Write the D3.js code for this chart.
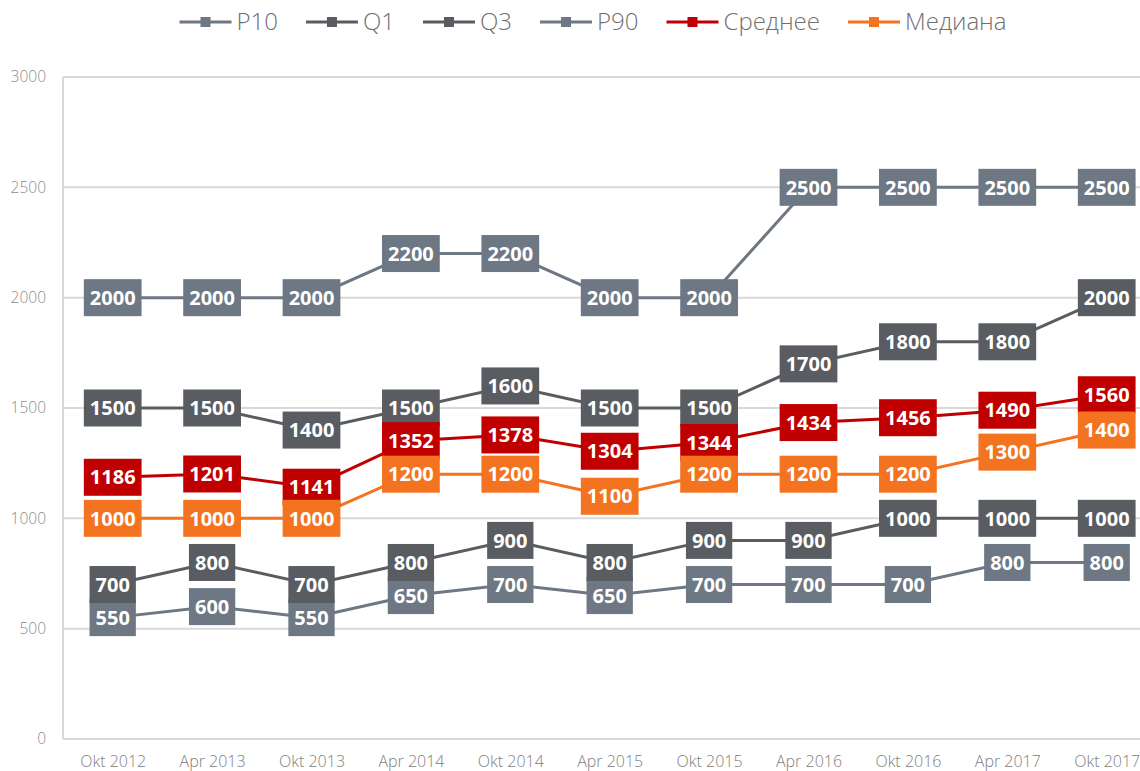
<!DOCTYPE html>
<html>
<head>
<meta charset="utf-8">
<script src="https://cdn.jsdelivr.net/npm/d3@7"></script>
<style>
  body { margin: 0; background: #fff; }
  svg { font-family: "Open Sans", sans-serif; display: block; }
</style>
</head>
<body>
<div id="app"></div>
<script>
const width = 1140,
  height = 771;

const periods = ["Okt 2012", "Apr 2013", "Okt 2013", "Apr 2014", "Okt 2014", "Apr 2015",
  "Okt 2015", "Apr 2016", "Okt 2016", "Apr 2017", "Okt 2017"];
const seriesNames = ["P10", "Q1", "Q3", "P90", "Среднее", "Медиана"];
const p10 = [550, 600, 550, 650, 700, 650, 700, 700, 700, 800, 800];
const q1 = [700, 800, 700, 800, 900, 800, 900, 900, 1000, 1000, 1000];
const q3 = [1500, 1500, 1400, 1500, 1600, 1500, 1500, 1700, 1800, 1800, 2000];
const p90 = [2000, 2000, 2000, 2200, 2200, 2000, 2000, 2500, 2500, 2500, 2500];
const mean = [1186, 1201, 1141, 1352, 1378, 1304, 1344, 1434, 1456, 1490, 1560];
const median = [1000, 1000, 1000, 1200, 1200, 1100, 1200, 1200, 1200, 1300, 1400];
const yTicks = [0, 500, 1000, 1500, 2000, 2500, 3000];

const colors = ["#6d7884", "#595c61", "#595c61", "#6d7884", "#c00000", "#f37321"];
const series = seriesNames.map((name, i) => ({
  name,
  color: colors[i],
  values: [p10, q1, q3, p90, mean, median][i]
}));

const margin = { left: 63, top: 77, bottom: 32 };

const x = d3.scalePoint()
  .domain(periods)
  .range([margin.left, margin.left + 99.4 * 11])
  .padding(0.5);

const y = d3.scaleLinear()
  .domain([0, 3000])
  .range([height - margin.bottom, margin.top]);

const svg = d3.select("#app").append("svg")
  .attr("width", width)
  .attr("height", height);

// grid lines
svg.append("g")
  .selectAll("line")
  .data(yTicks.slice(1))
  .join("line")
  .attr("x1", margin.left)
  .attr("x2", width)
  .attr("y1", d => y(d))
  .attr("y2", d => y(d))
  .attr("stroke", "#d9d9d9")
  .attr("stroke-width", 2);

// y axis labels
const yAxis = svg.append("g")
  .attr("transform", `translate(${margin.left - 17},0)`)
  .call(d3.axisLeft(y).tickValues(yTicks).tickFormat(d3.format("d")).tickSize(0).tickPadding(0));
yAxis.select(".domain").remove();
yAxis.selectAll("text")
  .attr("font-family", "Open Sans")
  .attr("font-size", 15.5)
  .attr("font-weight", 300)
  .attr("fill", "#8c8c8c");

// x axis labels
const xAxis = svg.append("g")
  .attr("transform", `translate(0,${y(0)})`)
  .call(d3.axisBottom(x).tickSize(0).tickPadding(17));
xAxis.select(".domain").remove();
xAxis.selectAll("text")
  .attr("font-family", "Open Sans")
  .attr("font-size", 16)
  .attr("font-weight", 300)
  .attr("fill", "#808080");

// axis lines
svg.append("line")
  .attr("x1", margin.left).attr("x2", margin.left)
  .attr("y1", y(3000)).attr("y2", y(0))
  .attr("stroke", "#d9d9d9").attr("stroke-width", 2);
svg.append("line")
  .attr("x1", margin.left).attr("x2", width)
  .attr("y1", y(0)).attr("y2", y(0))
  .attr("stroke", "#d9d9d9").attr("stroke-width", 2);

const line = d3.line()
  .x((d, i) => x(periods[i]))
  .y(d => y(d));

// lines
svg.append("g")
  .selectAll("path")
  .data(series)
  .join("path")
  .attr("d", d => line(d.values))
  .attr("fill", "none")
  .attr("stroke", d => d.color)
  .attr("stroke-width", 3);

// data labels
const labelH = 37;
series.forEach(s => {
  const g = svg.append("g");
  s.values.forEach((v, i) => {
    const cx = x(periods[i]), cy = y(v);
    const lg = g.append("g").attr("transform", `translate(${cx},${cy})`);
    const rect = lg.append("rect").attr("fill", s.color);
    const t = lg.append("text")
      .attr("text-anchor", "middle")
      .attr("dy", "0.36em")
      .attr("font-size", 20)
      .attr("font-weight", "bold")
      .attr("fill", "#fff")
      .text(v);
    const w = t.node().getComputedTextLength() + 12;
    rect.attr("x", -w / 2).attr("y", -labelH / 2).attr("width", w).attr("height", labelH);
  });
});

// legend
const legend = svg.append("g");
let lx = 0;
const gap = 28;
series.forEach(s => {
  const item = legend.append("g").attr("transform", `translate(${lx},0)`);
  item.append("line")
    .attr("x1", 0).attr("x2", 52)
    .attr("stroke", s.color).attr("stroke-width", 3);
  item.append("rect")
    .attr("x", 21).attr("y", -5).attr("width", 10).attr("height", 10)
    .attr("fill", s.color);
  const t = item.append("text")
    .attr("x", 57)
    .attr("dy", "0.35em")
    .attr("font-size", 24)
    .attr("font-weight", 300)
    .attr("fill", "#6f6f6f")
    .text(s.name);
  lx += 57 + t.node().getComputedTextLength() + gap;
});
lx -= gap;
legend.attr("transform", `translate(${593 - lx / 2},22)`);
</script>
</body>
</html>
